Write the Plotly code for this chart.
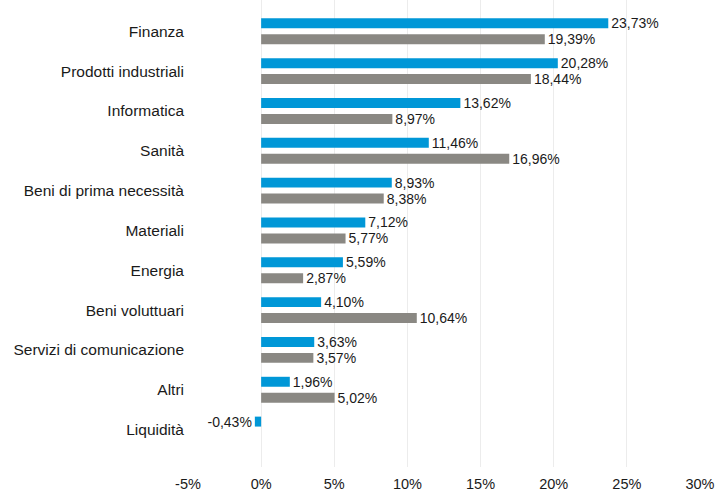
import plotly.graph_objects as go

categories = ["Finanza", "Prodotti industriali", "Informatica", "Sanità",
              "Beni di prima necessità", "Materiali", "Energia", "Beni voluttuari",
              "Servizi di comunicazione", "Altri", "Liquidità"]
series_blue = [23.73, 20.28, 13.62, 11.46, 8.93, 7.12, 5.59, 4.10, 3.63, 1.96, -0.43]
series_gray = [19.39, 18.44, 8.97, 16.96, 8.38, 5.77, 2.87, 10.64, 3.57, 5.02, None]
x_ticks = [-5, 0, 5, 10, 15, 20, 25, 30]
x_tick_labels = ["-5%", "0%", "5%", "10%", "15%", "20%", "25%", "30%"]


def fmt(v):
    return "" if v is None else f"{v:.2f}".replace(".", ",") + "%"


idx = list(range(len(categories)))
BAR_W = 0.25
FONT = "Liberation Sans, Arial, sans-serif"

fig = go.Figure()
fig.add_trace(go.Bar(
    y=idx, x=series_blue, orientation="h", width=BAR_W, offset=-0.2 - BAR_W / 2,
    marker=dict(color="#0097D7", line=dict(width=0)),
    text=[fmt(v) for v in series_blue], textposition="outside", constraintext="none",
    textfont=dict(family=FONT, size=14, color="#1a1a1a"),
    cliponaxis=False, hoverinfo="skip",
))
fig.add_trace(go.Bar(
    y=idx, x=series_gray, orientation="h", width=BAR_W, offset=0.2 - BAR_W / 2,
    marker=dict(color="#8A8883", line=dict(width=0)),
    text=[fmt(v) for v in series_gray], textposition="outside", constraintext="none",
    textfont=dict(family=FONT, size=14, color="#1a1a1a"),
    cliponaxis=False, hoverinfo="skip",
))

fig.update_layout(
    width=716, height=492,
    margin=dict(l=188, r=16, t=0, b=25),
    paper_bgcolor="white", plot_bgcolor="white",
    barmode="overlay", showlegend=False,
    font=dict(family=FONT, color="#1a1a1a"),
    xaxis=dict(range=[-5, 30], tickvals=x_ticks, ticktext=x_tick_labels,
               showgrid=True, gridcolor="#ececec", gridwidth=1,
               zeroline=False, showline=False, ticks="", automargin=False,
               tickfont=dict(size=14.5), ticklabelstandoff=6, fixedrange=True),
    yaxis=dict(range=[10.94, -0.786], tickvals=idx, ticktext=categories,
               showgrid=False, zeroline=False, showline=False, ticks="", automargin=False,
               tickfont=dict(size=15.5), ticklabelstandoff=3, fixedrange=True),
)

fig.write_html("out.html", config={"displayModeBar": False},
               post_script="document.body.style.margin='0';")
